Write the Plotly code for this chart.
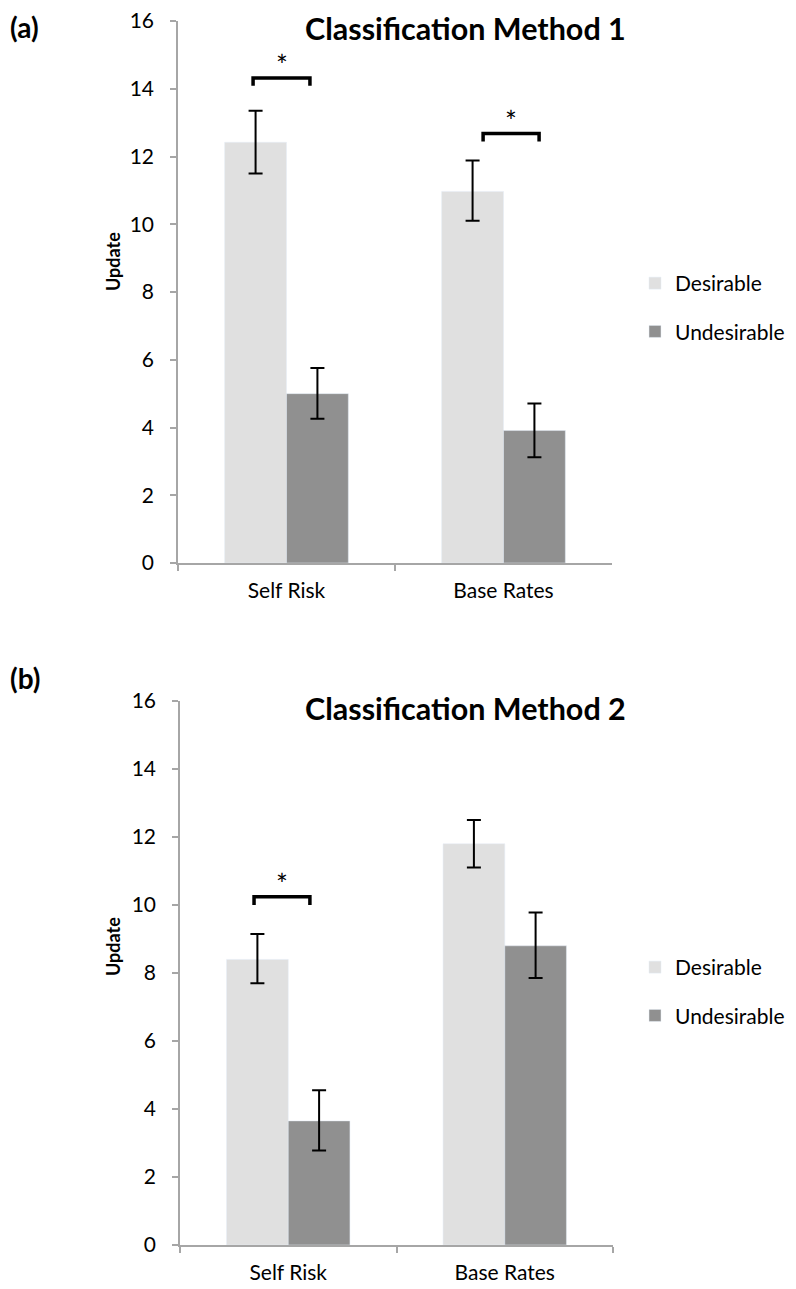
import plotly.graph_objects as go

categories = ["Self Risk", "Base Rates"]
series_names = ["Desirable", "Undesirable"]

# Panel (a): Classification Method 1
a_desirable = [12.42, 10.97]
a_desirable_hi = [13.35, 11.88]
a_desirable_lo = [11.50, 10.10]
a_undesirable = [5.00, 3.91]
a_undesirable_hi = [5.76, 4.71]
a_undesirable_lo = [4.26, 3.12]

# Panel (b): Classification Method 2
b_desirable = [8.40, 11.80]
b_desirable_hi = [9.15, 12.50]
b_desirable_lo = [7.70, 11.10]
b_undesirable = [3.65, 8.80]
b_undesirable_hi = [4.55, 9.78]
b_undesirable_lo = [2.78, 7.85]

y_ticks = [0, 2, 4, 6, 8, 10, 12, 14, 16]
y_title = "Update"

# significance brackets: (x_left, x_right, y_top, y_leg, star_y)
sig_a = [(-0.154, 0.108, 14.32, 14.09, 14.70), (0.906, 1.164, 12.68, 12.44, 13.06)]
sig_b = [(-0.158, 0.100, 10.24, 10.00, 10.62)]

COL_D = "#E0E0E0"
COL_U = "#909090"
AXC = "#A6A6A6"
FONT = "Lato"

# page body has an 8px margin; the figure is sized/positioned to compensate
OFF = 8
W, H = 796 - OFF, 1289 - OFF


def px_x(x):
    return (x - OFF) / W


def px_y(y):
    return 1 - (y - OFF) / H


def err(vals, hi, lo):
    return dict(type="data", symmetric=False,
                array=[h - v for h, v in zip(hi, vals)],
                arrayminus=[v - l for l, v in zip(lo, vals)],
                color="black", thickness=2, width=7)


fig = go.Figure()
fig.add_trace(go.Bar(x=categories, y=a_desirable, name=series_names[0], marker_color=COL_D,
                     error_y=err(a_desirable, a_desirable_hi, a_desirable_lo),
                     xaxis="x", yaxis="y", legend="legend", legendgroup="a1"))
fig.add_trace(go.Bar(x=categories, y=a_undesirable, name=series_names[1], marker_color=COL_U,
                     error_y=err(a_undesirable, a_undesirable_hi, a_undesirable_lo),
                     xaxis="x", yaxis="y", legend="legend", legendgroup="a2"))
fig.add_trace(go.Bar(x=categories, y=b_desirable, name=series_names[0], marker_color=COL_D,
                     error_y=err(b_desirable, b_desirable_hi, b_desirable_lo),
                     xaxis="x2", yaxis="y2", legend="legend2", legendgroup="b1"))
fig.add_trace(go.Bar(x=categories, y=b_undesirable, name=series_names[1], marker_color=COL_U,
                     error_y=err(b_undesirable, b_undesirable_hi, b_undesirable_lo),
                     xaxis="x2", yaxis="y2", legend="legend2", legendgroup="b2"))

xcommon = dict(type="category", range=[-0.5, 1.5], showline=True, linecolor=AXC, linewidth=1.5,
               ticks="outside", tickson="boundaries", ticklen=6, tickcolor=AXC, tickwidth=1.5,
               tickfont=dict(family=FONT, size=21, color="black"), showgrid=False, zeroline=False,
               ticklabelstandoff=8, automargin=False, fixedrange=True, ticklabeloverflow="allow")
ycommon = dict(range=[0, 16], tickvals=y_ticks, showline=True, linecolor=AXC, linewidth=1.5,
               ticks="outside", ticklen=6, tickcolor=AXC, tickwidth=1.5,
               tickfont=dict(family=FONT, size=21, color="black"), showgrid=False, zeroline=False,
               ticklabelstandoff=12, automargin=False, fixedrange=True, ticklabeloverflow="allow")

fig.update_layout(
    width=W, height=H, margin=dict(l=0, r=0, t=0, b=0),
    paper_bgcolor="white", plot_bgcolor="white",
    barmode="group", bargap=0.43, bargroupgap=0,
    xaxis=dict(domain=[px_x(178), px_x(612)], anchor="y", **xcommon),
    yaxis=dict(domain=[px_y(563), px_y(21)], anchor="x", **ycommon),
    xaxis2=dict(domain=[px_x(180), px_x(613)], anchor="y2", **xcommon),
    yaxis2=dict(domain=[px_y(1245), px_y(701)], anchor="x2", **ycommon),
    legend=dict(x=px_x(635), y=px_y(263), xanchor="left", yanchor="top",
                font=dict(family=FONT, size=21, color="black"), tracegroupgap=18,
                bgcolor="rgba(0,0,0,0)"),
    legend2=dict(x=px_x(635), y=px_y(947), xanchor="left", yanchor="top",
                 font=dict(family=FONT, size=21, color="black"), tracegroupgap=18,
                 bgcolor="rgba(0,0,0,0)"),
    showlegend=True,
)

annotations = [
    dict(text="<b>(a)</b>", x=0, y=1, xref="paper", yref="paper", xanchor="left",
         yanchor="top", showarrow=False, font=dict(family=FONT, size=28, color="black")),
    dict(text="<b>(b)</b>", x=0, y=px_y(678), xref="paper", yref="paper", xanchor="left",
         yanchor="middle", showarrow=False, font=dict(family=FONT, size=28, color="black")),
    dict(text="<b>Classification Method 1</b>", x=px_x(465), y=1, xref="paper", yref="paper",
         xanchor="center", yanchor="top", showarrow=False, font=dict(family=FONT, size=30.5, color="black")),
    dict(text="<b>Classification Method 2</b>", x=px_x(465), y=px_y(708), xref="paper", yref="paper",
         xanchor="center", yanchor="middle", showarrow=False, font=dict(family=FONT, size=30.5, color="black")),
    dict(text=f"<b>{y_title}</b>", x=px_x(113), y=px_y(262), xref="paper", yref="paper", textangle=-90,
         xanchor="center", yanchor="middle", showarrow=False, font=dict(family=FONT, size=18, color="black")),
    dict(text=f"<b>{y_title}</b>", x=px_x(113), y=px_y(947), xref="paper", yref="paper", textangle=-90,
         xanchor="center", yanchor="middle", showarrow=False, font=dict(family=FONT, size=18, color="black")),
]

shapes = []
for (xl, xr, yt, yl, sy), (xr_, yr_) in [(s, ("x", "y")) for s in sig_a] + [(s, ("x2", "y2")) for s in sig_b]:
    shapes.append(dict(type="path", xref=xr_, yref=yr_,
                       path=f"M {xl},{yl} L {xl},{yt} L {xr},{yt} L {xr},{yl}",
                       line=dict(color="black", width=3.5)))
    annotations.append(dict(text="*", x=(xl + xr) / 2, y=sy, xref=xr_, yref=yr_, showarrow=False,
                            xanchor="center", yanchor="middle",
                            font=dict(family=FONT, size=28, color="black")))

fig.update_layout(annotations=annotations, shapes=shapes)
fig.write_html("out.html")
